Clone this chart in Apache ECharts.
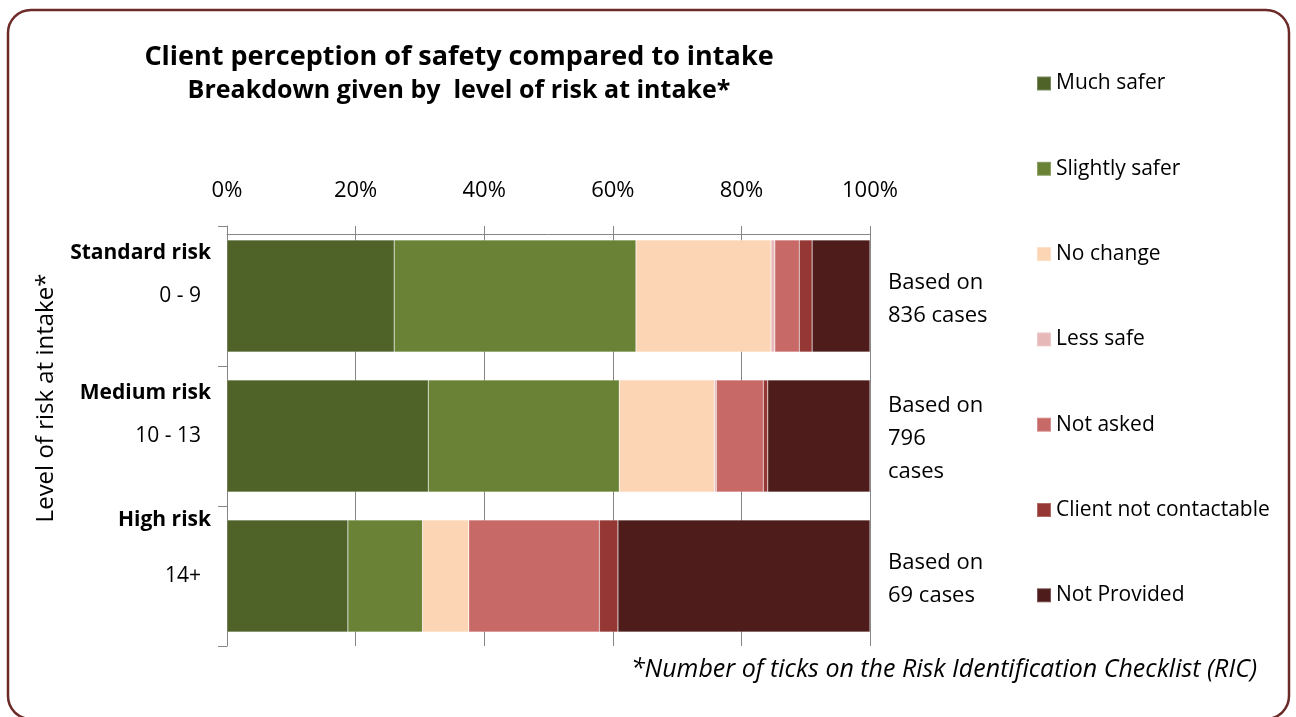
<!DOCTYPE html>
<html>
<head>
<meta charset="utf-8">
<title>Client perception of safety compared to intake</title>
<script src="https://cdn.jsdelivr.net/npm/echarts@6/dist/echarts.min.js"></script>
<style>
  html, body { margin: 0; padding: 0; background: #ffffff; }
  #chart { width: 1296px; height: 717px; }
</style>
</head>
<body>
<div id="chart"></div>
<script>
// Risk level groups (top to bottom) and their RIC tick ranges
const categories = ['Standard risk', 'Medium risk', 'High risk'];
const tickRanges = ['0 - 9', '10 - 13', '14+'];

// Share of clients (%) in each response, per risk level
const muchSafer      = [26.0, 31.3, 18.8];
const slightlySafer  = [37.6, 29.7, 11.6];
const noChange       = [21.0, 14.8, 7.2];
const lessSafe       = [0.6, 0.3, 0.0];
const notAsked       = [3.8, 7.3, 20.3];
const notContactable = [2.0, 0.7, 2.9];
const notProvided    = [9.0, 15.9, 39.2];

// Case-count notes printed to the right of each bar
const caseNotes = [
  ['Based on', '836 cases'],
  ['Based on', '796', 'cases'],
  ['Based on', '69 cases']
];

const percentTicks = [0, 20, 40, 60, 80, 100];

const FONT = '"Open Sans", "Noto Sans", sans-serif';
const AXIS_GREY = '#868686';

const seriesDefs = [
  { name: 'Much safer',             data: muchSafer,      color: '#4F6228' },
  { name: 'Slightly safer',         data: slightlySafer,  color: '#698235' },
  { name: 'No change',              data: noChange,       color: '#FCD5B5' },
  { name: 'Less safe',              data: lessSafe,       color: '#E6B9B8' },
  { name: 'Not asked',              data: notAsked,       color: '#C76967' },
  { name: 'Client not contactable', data: notContactable, color: '#953735' },
  { name: 'Not Provided',           data: notProvided,    color: '#4F1C1C' }
];

const series = seriesDefs.map((s, i) => {
  const item = {
    name: s.name,
    type: 'bar',
    stack: 'total',
    data: s.data,
    barCategoryGap: '20%',
    itemStyle: { color: s.color, borderColor: 'rgba(255,255,255,0.25)', borderWidth: 0.6 },
    emphasis: { disabled: true }
  };
  if (i === seriesDefs.length - 1) {
    item.label = {
      show: true,
      position: 'right',
      distance: 18,
      offset: [0, 3],
      align: 'left',
      color: '#000',
      fontFamily: FONT,
      fontSize: 22,
      lineHeight: 33,
      formatter: p => caseNotes[p.dataIndex].join('\n')
    };
  }
  return item;
});

const chart = echarts.init(document.getElementById('chart'), null, { renderer: 'canvas' });

chart.setOption({
  backgroundColor: '#ffffff',
  animation: false,
  title: {
    text: 'Client perception of safety compared to intake',
    subtext: 'Breakdown given by  level of risk at intake*',
    left: 454,
    top: 39,
    textAlign: 'center',
    itemGap: 7,
    textStyle: { fontFamily: FONT, fontSize: 27, fontWeight: 'bold', color: '#000' },
    subtextStyle: { fontFamily: FONT, fontSize: 25, fontWeight: 'bold', color: '#000' }
  },
  legend: {
    orient: 'vertical',
    left: 1031,
    top: 68,
    itemWidth: 14,
    itemHeight: 14,
    itemGap: 64.3,
    icon: 'rect',
    selectedMode: false,
    textStyle: { fontFamily: FONT, fontSize: 21, lineHeight: 21, color: '#000' },
    data: seriesDefs.map(s => s.name)
  },
  grid: { left: 227, right: 426, top: 226, bottom: 71, containLabel: false },
  xAxis: {
    type: 'value',
    position: 'top',
    offset: -8,
    min: 0,
    max: 100,
    interval: 20,
    axisLine: { show: true, lineStyle: { color: AXIS_GREY, width: 1 } },
    axisTick: { show: true, length: 8, lineStyle: { color: AXIS_GREY } },
    splitLine: { show: true, lineStyle: { color: AXIS_GREY, width: 1 } },
    axisLabel: {
      margin: 32,
      fontFamily: FONT,
      fontSize: 22,
      color: '#000',
      formatter: v => (percentTicks.includes(v) ? v + '%' : '')
    }
  },
  yAxis: {
    type: 'category',
    inverse: true,
    data: categories,
    axisLine: { show: true, lineStyle: { color: AXIS_GREY, width: 1 } },
    axisTick: { show: true, length: 9, lineStyle: { color: AXIS_GREY } },
    splitLine: { show: false },
    axisLabel: {
      margin: 16,
      align: 'right',
      formatter: (v, idx) => {
        // the last group's name sits a little further above its range
        const g = idx === categories.length - 1 ? 'H' : 'S';
        return '{n' + g + '|' + v + '}\n{r|' + tickRanges[idx] + '}\n{e' + g + '| }';
      },
      rich: {
        nS: { fontFamily: FONT, fontSize: 21, fontWeight: 'bold', color: '#000', lineHeight: 44 },
        nH: { fontFamily: FONT, fontSize: 21, fontWeight: 'bold', color: '#000', lineHeight: 70 },
        r:  { fontFamily: FONT, fontSize: 21, color: '#000', lineHeight: 42, padding: [0, 10, 0, 0] },
        eS: { fontSize: 21, lineHeight: 44 },
        eH: { fontSize: 21, lineHeight: 70 }
      }
    }
  },
  graphic: [
    {
      type: 'rect',
      silent: true,
      shape: { x: 8, y: 10, width: 1281, height: 709, r: 23 },
      style: { fill: 'none', stroke: '#6B2A28', lineWidth: 2.5 },
      z: 100
    },
    {
      type: 'text',
      silent: true,
      x: 46,
      y: 398,
      rotation: Math.PI / 2,
      style: {
        text: 'Level of risk at intake*',
        fontFamily: FONT,
        fontSize: 24,
        fill: '#000',
        align: 'center',
        verticalAlign: 'middle'
      }
    },
    {
      type: 'text',
      silent: true,
      x: 1257,
      y: 670,
      style: {
        text: '*Number of ticks on the Risk Identification Checklist (RIC)',
        fontFamily: FONT,
        fontSize: 25,
        fontStyle: 'italic',
        fill: '#000',
        align: 'right',
        verticalAlign: 'middle'
      }
    }
  ],
  series: series
});
</script>
</body>
</html>
